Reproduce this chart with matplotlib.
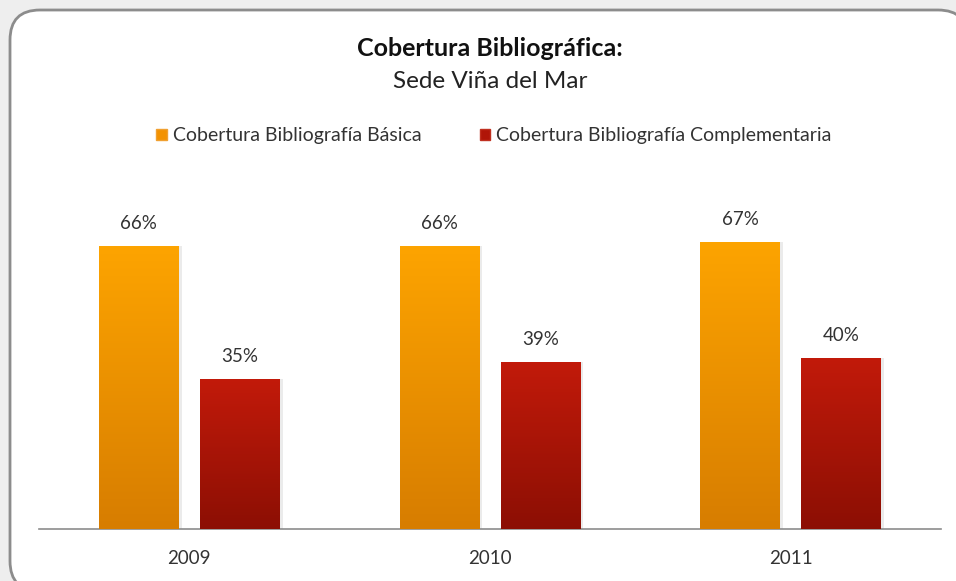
import numpy as np
import matplotlib
matplotlib.use("Agg")
import matplotlib.pyplot as plt
from matplotlib.patches import FancyBboxPatch, Patch
from matplotlib.colors import LinearSegmentedColormap

years = ["2009", "2010", "2011"]
basica = [66, 66, 67]
complementaria = [35, 39, 40]
series_names = ["Cobertura Bibliografía Básica", "Cobertura Bibliografía Complementaria"]

W, H = 956, 581
plt.rcParams["font.family"] = ["Lato", "DejaVu Sans"]
fig = plt.figure(figsize=(W / 100, H / 100), dpi=100)
fig.patch.set_facecolor("#eeeeee")

# rounded chart-area frame, drawn in pixel coordinates
frame = FancyBboxPatch((10, -10), 958, H - 10 + 10,
                       boxstyle="round,pad=0,rounding_size=30",
                       transform=None, facecolor="white",
                       edgecolor="#8c8c8c", linewidth=2.0, zorder=-5)
fig.patches.append(frame)

# plot area in pixel coordinates
x0, x1 = 39, 941
ybase, ytop = 529, 229
ax = fig.add_axes([x0 / W, (H - ybase) / H, (x1 - x0) / W, (ybase - ytop) / H])
ax.set_facecolor("none")

x = np.arange(len(years))
bw = 0.265
off = 0.168
grad_specs = [("#fda400", "#d77d00"), ("#c21a0a", "#8c0f04")]

def gradient_bars(xs, vals, top_c, bot_c):
    bars = ax.bar(xs, vals, width=bw, color="none", edgecolor="none", zorder=3)
    cmap = LinearSegmentedColormap.from_list("g", [bot_c, top_c])
    grad = np.linspace(0, 1, 256).reshape(-1, 1)
    for b in bars:
        bx, by = b.get_x(), b.get_y()
        bwid, bh = b.get_width(), b.get_height()
        # soft shadow
        ax.bar(bx + bwid / 2 + 0.006, bh, width=bwid + 0.008, bottom=0,
               color="#000000", alpha=0.08, zorder=2, linewidth=0)
        im = ax.imshow(grad, cmap=cmap, aspect="auto", origin="lower",
                       extent=[bx, bx + bwid, by, by + bh], zorder=3)
        im.set_clip_path(b)
    return bars

b1 = gradient_bars(x - off, basica, *grad_specs[0])
b2 = gradient_bars(x + off, complementaria, *grad_specs[1])
ax.set_xlim(-0.5, 2.5)
ax.set_ylim(0, 70)

for bars, vals in ((b1, basica), (b2, complementaria)):
    for b, v in zip(bars, vals):
        ax.annotate(f"{v}%", (b.get_x() + b.get_width() / 2, v),
                    xytext=(0, 10), textcoords="offset points",
                    ha="center", va="bottom", fontsize=13.5, color="#333333",
                    annotation_clip=False)

for s in ("top", "right", "left"):
    ax.spines[s].set_visible(False)
ax.spines["bottom"].set_color("#8c8c8c")
ax.spines["bottom"].set_linewidth(1.2)
ax.set_yticks([])
ax.set_xticks(x)
ax.set_xticklabels(years, fontsize=13.5, color="#333333")
ax.tick_params(axis="x", length=0, pad=15)

# titles
fig.text(490 / W, 1 - 48 / H, "Cobertura Bibliográfica:", ha="center", va="center",
         fontsize=18, fontweight="bold", color="#111111")
fig.text(490 / W, 1 - 81 / H, "Sede Viña del Mar", ha="center", va="center",
         fontsize=17.5, color="#222222")

# legend
handles = [Patch(facecolor="#f39200", edgecolor="#f0a030"),
           Patch(facecolor="#b01508", edgecolor="#c03020")]
leg = fig.legend(handles, series_names, loc="center", bbox_to_anchor=(494 / W, 1 - 136 / H),
                 ncol=2, frameon=False, fontsize=14, handlelength=0.55, handleheight=0.55,
                 handletextpad=0.3, columnspacing=3.0)
for t in leg.get_texts():
    t.set_color("#333333")

fig.savefig("out.png", dpi=100, facecolor=fig.get_facecolor())
